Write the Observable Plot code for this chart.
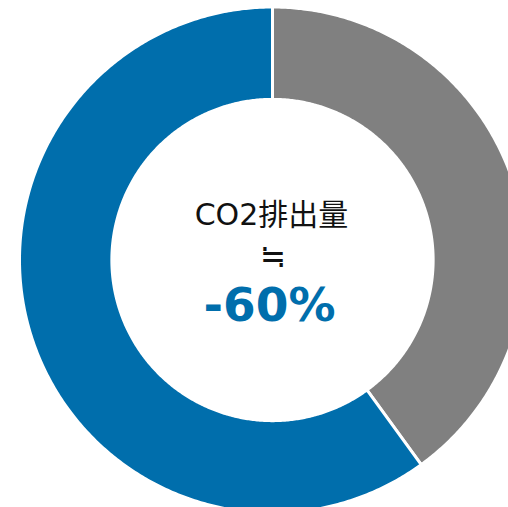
<!DOCTYPE html>
<html><head><meta charset="utf-8">
<script src="https://cdn.jsdelivr.net/npm/d3@7"></script>
<script src="https://cdn.jsdelivr.net/npm/@observablehq/plot@0.6"></script>
<style>body{margin:0;background:#fff;overflow:hidden}</style>
</head><body><div id="chart"></div>
<script>
const categories = ["その他", "削減"];
const values = [40, 60];
const colors = ["#808080", "#006EAC"];
const labelTitle = "CO2排出量";
const labelApprox = "≒";
const labelValue = "-60%";

const inner = 160 / 252;
const total = d3.sum(values);
let acc = 0;
const pts = [];
categories.forEach((c, i) => {
  const a0 = acc / total * 2 * Math.PI;
  acc += values[i];
  const a1 = acc / total * 2 * Math.PI;
  const n = Math.max(2, Math.ceil((a1 - a0) / (Math.PI / 360)));
  for (let k = 0; k <= n; k++) {
    const a = a0 + (a1 - a0) * k / n;
    pts.push({cat: c, x: Math.sin(a), y: Math.cos(a)});
  }
  for (let k = n; k >= 0; k--) {
    const a = a0 + (a1 - a0) * k / n;
    pts.push({cat: c, x: inner * Math.sin(a), y: inner * Math.cos(a)});
  }
});

const cx = 272, cy = 259.5, R = 253;
const font = "'DejaVu Sans', 'Noto Sans CJK JP', sans-serif";
const chart = Plot.plot({
  width: 508, height: 507,
  margin: 0,
  style: {background: "white", overflow: "visible"},
  x: {domain: [-1, 1], range: [cx - R, cx + R], axis: null},
  y: {domain: [-1, 1], range: [cy + R, cy - R], axis: null},
  color: {domain: categories, range: colors},
  marks: [
    Plot.line(pts, {x: "x", y: "y", z: "cat", fill: "cat", stroke: "white", strokeWidth: 3, curve: "linear-closed"}),
    Plot.text([labelTitle], {x: () => 0, y: () => 0, text: d => d, dx: -1, dy: -45, fontSize: 30, fill: "#111", fontFamily: font}),
    Plot.text([labelApprox], {x: () => 0, y: () => 0, text: d => d, dy: -3, fontSize: 31, fill: "#111", fontFamily: "'Noto Sans CJK JP', sans-serif"}),
    Plot.text([labelValue], {x: () => 0, y: () => 0, text: d => d, dx: -3, dy: 46, fontSize: 47, fontWeight: "bold", fill: colors[1], fontFamily: font})
  ]
});
document.getElementById("chart").appendChild(chart);
</script></body></html>
